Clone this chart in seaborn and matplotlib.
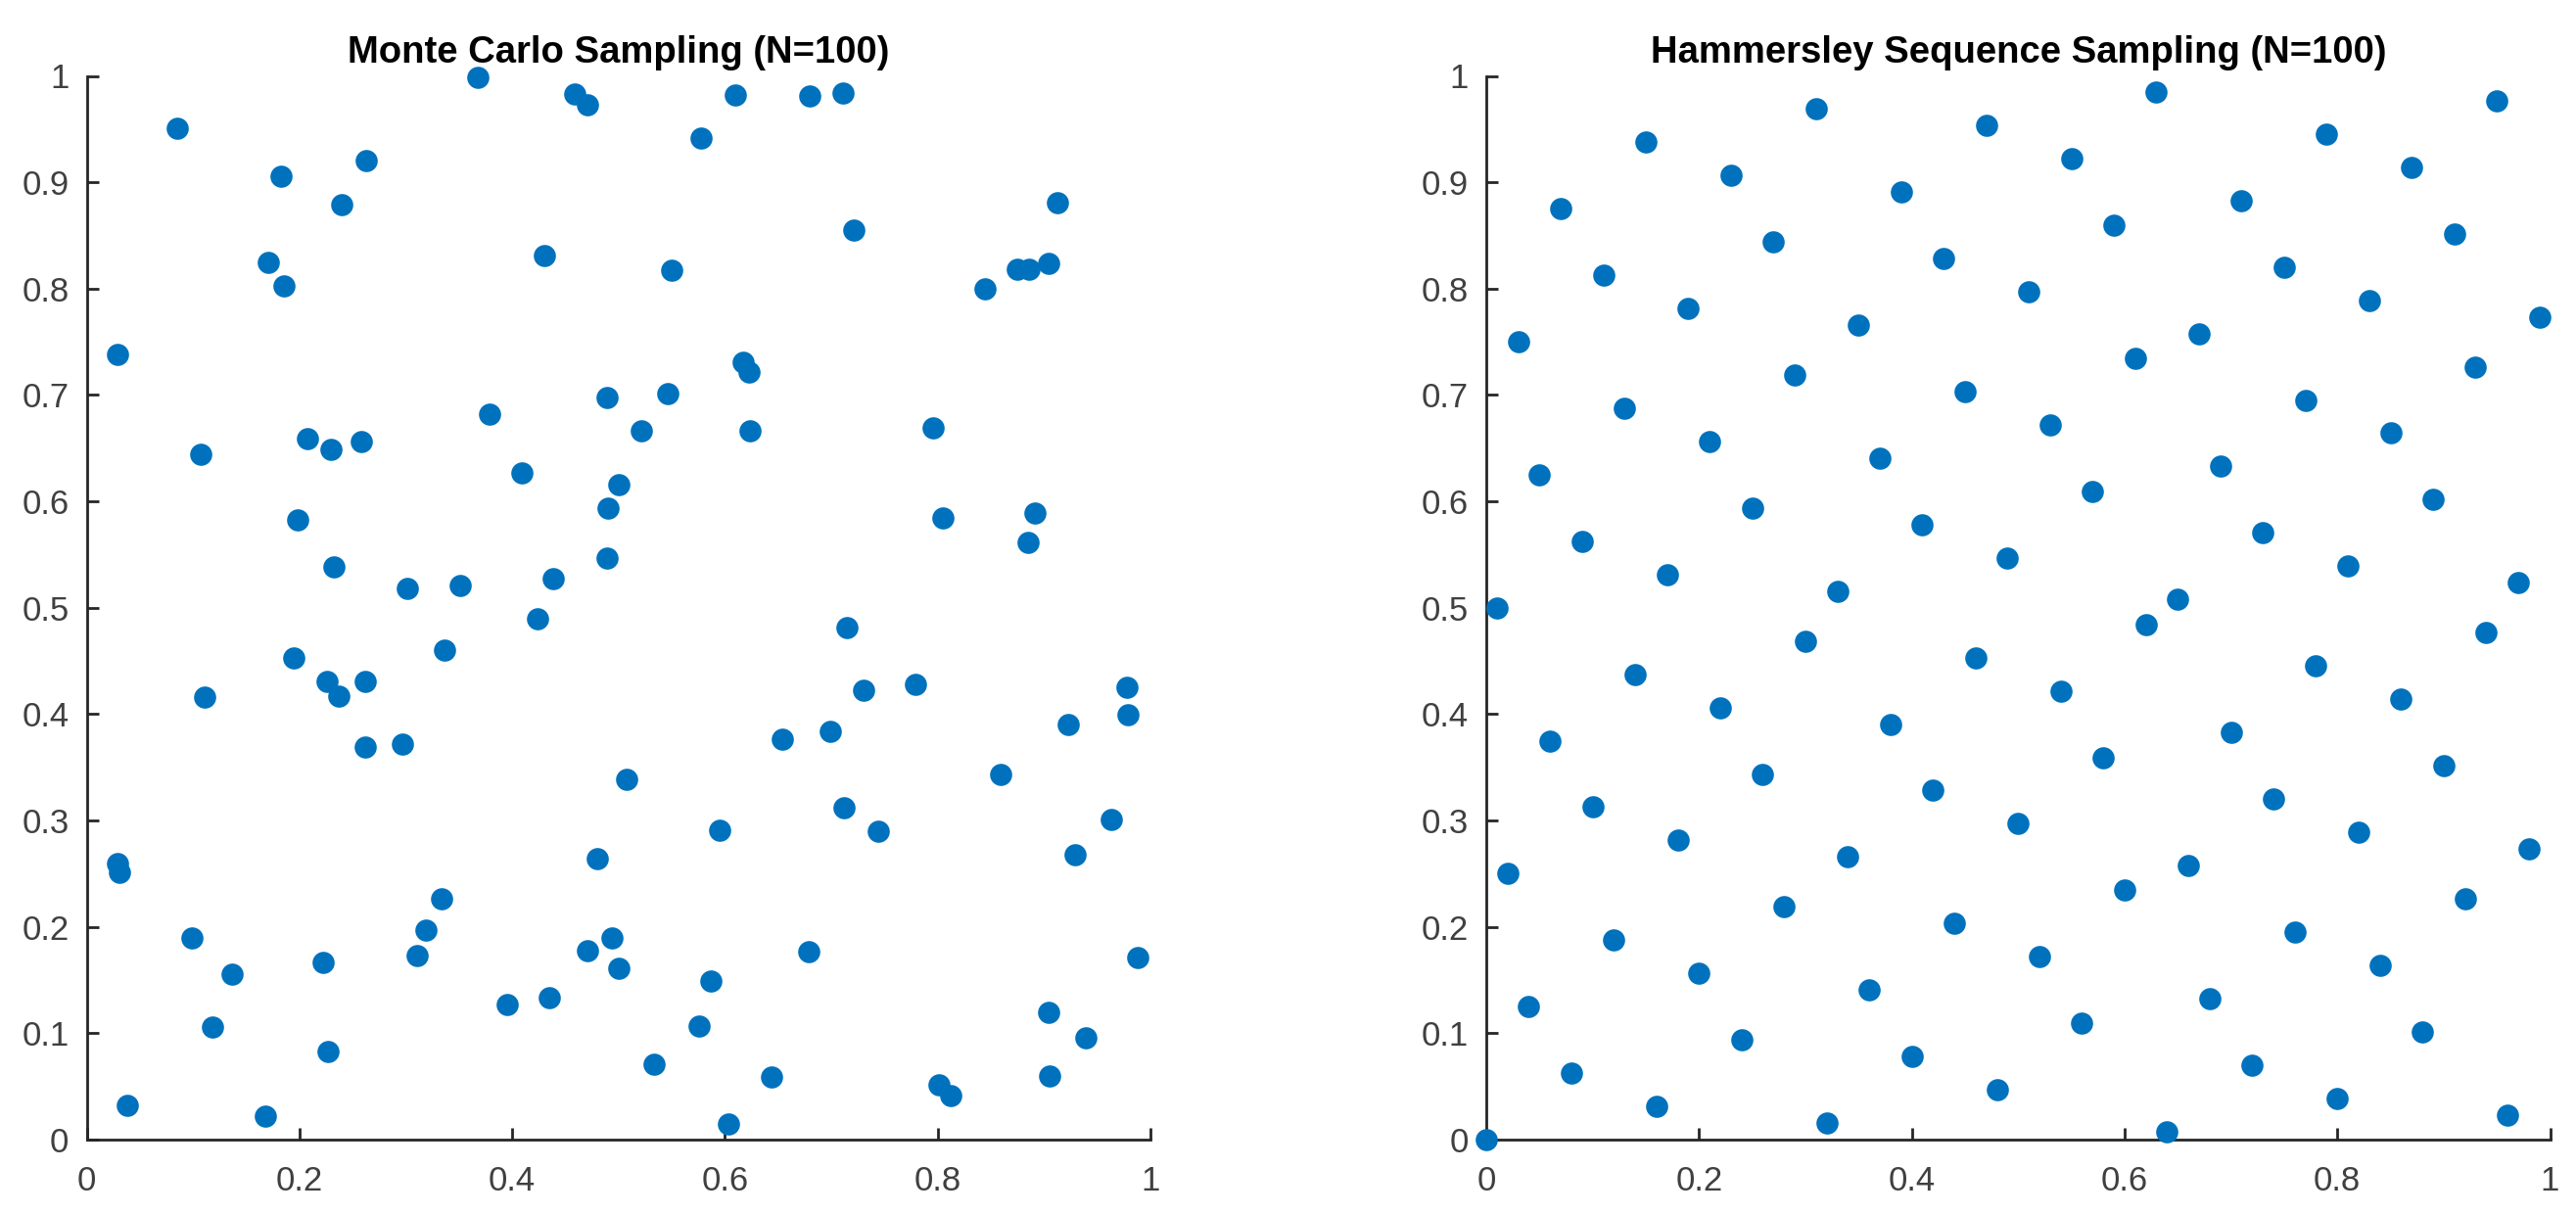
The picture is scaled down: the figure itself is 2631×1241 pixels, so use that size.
import matplotlib
matplotlib.use("Agg")
import matplotlib.pyplot as plt
import seaborn as sns
import pandas as pd

# ---- data ----
mc_x = [0.368, 0.459, 0.471, 0.085, 0.263, 0.183, 0.240, 0.430, 0.171, 0.185,
        0.029, 0.489, 0.379, 0.521, 0.107, 0.208, 0.230, 0.258, 0.409, 0.500,
        0.490, 0.198, 0.489, 0.232, 0.439, 0.301, 0.351, 0.424,
        0.610, 0.680, 0.711, 0.578, 0.913, 0.721, 0.550, 0.875, 0.886, 0.904,
        0.844, 0.617, 0.623, 0.546, 0.624, 0.796, 0.805, 0.891, 0.885, 0.715,
        0.195, 0.336, 0.226, 0.237, 0.262, 0.111, 0.262, 0.297, 0.508, 0.480,
        0.029, 0.031, 0.334, 0.319, 0.099, 0.494, 0.471, 0.311, 0.222, 0.137,
        0.500, 0.435, 0.395, 0.118, 0.227, 0.038, 0.168,
        0.730, 0.779, 0.978, 0.979, 0.923, 0.699, 0.654, 0.859, 0.712, 0.744,
        0.963, 0.595, 0.929, 0.679, 0.988, 0.587, 0.576, 0.904, 0.939, 0.533,
        0.644, 0.905, 0.801, 0.812, 0.603]
mc_y = [0.999, 0.983, 0.973, 0.951, 0.920, 0.906, 0.879, 0.831, 0.825, 0.803,
        0.738, 0.698, 0.682, 0.666, 0.644, 0.659, 0.649, 0.656, 0.627, 0.616,
        0.594, 0.583, 0.547, 0.538, 0.527, 0.518, 0.521, 0.490,
        0.982, 0.981, 0.984, 0.942, 0.881, 0.855, 0.817, 0.818, 0.818, 0.824,
        0.800, 0.731, 0.722, 0.701, 0.666, 0.669, 0.584, 0.589, 0.561, 0.481,
        0.453, 0.460, 0.431, 0.417, 0.431, 0.416, 0.369, 0.372, 0.339, 0.264,
        0.260, 0.251, 0.226, 0.197, 0.190, 0.190, 0.178, 0.173, 0.167, 0.156,
        0.161, 0.133, 0.127, 0.106, 0.083, 0.032, 0.022,
        0.422, 0.428, 0.425, 0.399, 0.390, 0.384, 0.376, 0.343, 0.312, 0.290,
        0.301, 0.291, 0.268, 0.177, 0.171, 0.149, 0.107, 0.120, 0.096, 0.071,
        0.059, 0.060, 0.052, 0.041, 0.015]

ham_x = [0.00, 0.01, 0.02, 0.03, 0.04, 0.05, 0.06, 0.07, 0.08, 0.09,
         0.10, 0.11, 0.12, 0.13, 0.14, 0.15, 0.16, 0.17, 0.18, 0.19,
         0.20, 0.21, 0.22, 0.23, 0.24, 0.25, 0.26, 0.27, 0.28, 0.29,
         0.30, 0.31, 0.32, 0.33, 0.34, 0.35, 0.36, 0.37, 0.38, 0.39,
         0.40, 0.41, 0.42, 0.43, 0.44, 0.45, 0.46, 0.47, 0.48, 0.49,
         0.50, 0.51, 0.52, 0.53, 0.54, 0.55, 0.56, 0.57, 0.58, 0.59,
         0.60, 0.61, 0.62, 0.63, 0.64, 0.65, 0.66, 0.67, 0.68, 0.69,
         0.70, 0.71, 0.72, 0.73, 0.74, 0.75, 0.76, 0.77, 0.78, 0.79,
         0.80, 0.81, 0.82, 0.83, 0.84, 0.85, 0.86, 0.87, 0.88, 0.89,
         0.90, 0.91, 0.92, 0.93, 0.94, 0.95, 0.96, 0.97, 0.98, 0.99]
ham_y = [0.0, 0.5, 0.25, 0.75, 0.125, 0.625, 0.375, 0.875, 0.0625, 0.5625,
         0.3125, 0.8125, 0.1875, 0.6875, 0.4375, 0.9375, 0.03125, 0.53125, 0.28125, 0.78125,
         0.15625, 0.65625, 0.40625, 0.90625, 0.09375, 0.59375, 0.34375, 0.84375, 0.21875, 0.71875,
         0.46875, 0.96875, 0.015625, 0.515625, 0.265625, 0.765625, 0.140625, 0.640625, 0.390625, 0.890625,
         0.078125, 0.578125, 0.328125, 0.828125, 0.203125, 0.703125, 0.453125, 0.953125, 0.046875, 0.546875,
         0.296875, 0.796875, 0.171875, 0.671875, 0.421875, 0.921875, 0.109375, 0.609375, 0.359375, 0.859375,
         0.234375, 0.734375, 0.484375, 0.984375, 0.0078125, 0.5078125, 0.2578125, 0.7578125, 0.1328125, 0.6328125,
         0.3828125, 0.8828125, 0.0703125, 0.5703125, 0.3203125, 0.8203125, 0.1953125, 0.6953125, 0.4453125, 0.9453125,
         0.0390625, 0.5390625, 0.2890625, 0.7890625, 0.1640625, 0.6640625, 0.4140625, 0.9140625, 0.1015625, 0.6015625,
         0.3515625, 0.8515625, 0.2265625, 0.7265625, 0.4765625, 0.9765625, 0.0234375, 0.5234375, 0.2734375, 0.7734375]

titles = ["Monte Carlo Sampling (N=100)", "Hammersley Sequence Sampling (N=100)"]
x_ticks = [0, 0.2, 0.4, 0.6, 0.8, 1]
x_tick_labels = ["0", "0.2", "0.4", "0.6", "0.8", "1"]
y_ticks = [0, 0.1, 0.2, 0.3, 0.4, 0.5, 0.6, 0.7, 0.8, 0.9, 1]
y_tick_labels = ["0", "0.1", "0.2", "0.3", "0.4", "0.5", "0.6", "0.7", "0.8", "0.9", "1"]

# ---- style ----
sns.set_theme(style="white")
plt.rcParams["font.family"] = ["Liberation Sans", "DejaVu Sans"]

W, H = 2631, 1241
fig = plt.figure(figsize=(W / 100, H / 100), dpi=100)
axw = 1086.5 / W
axh = 1086.5 / H
bottom = 77 / H
ax1 = fig.add_axes([88.5 / W, bottom, axw, axh])
ax2 = fig.add_axes([1518 / W, bottom, axw, axh])

dfs = [pd.DataFrame({"x": mc_x, "y": mc_y}), pd.DataFrame({"x": ham_x, "y": ham_y})]
axis_col = "#262626"
label_col = "#404040"
for ax, df, title in zip([ax1, ax2], dfs, titles):
    sns.scatterplot(data=df, x="x", y="y", ax=ax, s=265, color="#0072BD",
                    linewidth=0, clip_on=False, zorder=3, legend=False)
    ax.set_xlim(0, 1)
    ax.set_ylim(0, 1)
    ax.set_xticks(x_ticks)
    ax.set_xticklabels(x_tick_labels)
    ax.set_yticks(y_ticks)
    ax.set_yticklabels(y_tick_labels)
    ax.set_xlabel("")
    ax.set_ylabel("")
    for side in ["top", "right"]:
        ax.spines[side].set_visible(False)
    for side in ["left", "bottom"]:
        ax.spines[side].set_color(axis_col)
        ax.spines[side].set_linewidth(2.0)
    ax.tick_params(axis="both", which="major", bottom=True, left=True,
                   top=False, right=False, direction="in", length=8.4, width=2.0,
                   color=axis_col, labelcolor=label_col, labelsize=25)
    ax.tick_params(axis="x", pad=18.5)
    ax.tick_params(axis="y", pad=13)
    ax.set_title(title, fontsize=27.5, fontweight="bold", color="black", pad=9.4)
    ax.set_facecolor("white")

fig.savefig("out.png", dpi=100, facecolor="white")
